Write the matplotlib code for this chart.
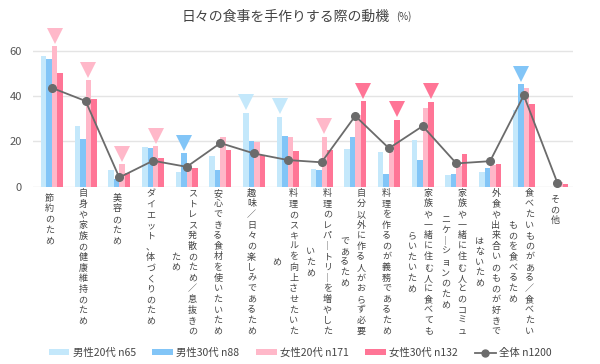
import numpy as np
import matplotlib.pyplot as plt
from matplotlib.patches import Patch
from matplotlib.lines import Line2D

plt.rcParams['font.family'] = ['Noto Sans CJK JP', 'DejaVu Sans']

# ── data (%) ────────────────────────────────────────────────────────────
labels = [
    "節約のため",
    "自身や家族の健康維持のため",
    "美容のため",
    "ダイエット、体づくりのため",
    "ストレス発散のため／息抜きのため",
    "安心できる食材を使いたいため",
    "趣味／日々の楽しみであるため",
    "料理のスキルを向上させたいため",
    "料理のレパートリーを増やしたいため",
    "自分以外に作る人がおらず必要であるため",
    "料理を作るのが義務であるため",
    "家族や一緒に住む人に食べてもらいたいため",
    "家族や一緒に住む人とのコミュニケーションのため",
    "外食や出来合いのものが好きではないため",
    "食べたいものがある／食べたいものを食べるため",
    "その他",
]
male20 = [57.6, 26.8, 7.2, 17.4, 6.6, 13.4, 32.8, 31.0, 7.8, 16.8, 15.3, 20.6, 5.4, 6.5, 34.1, 0.0]
male30 = [56.6, 21.3, 3.2, 17.1, 14.7, 7.5, 20.3, 22.6, 7.2, 21.8, 5.6, 11.8, 5.7, 8.2, 45.3, 0.0]
female20 = [62.2, 47.0, 9.9, 17.9, 9.6, 22.2, 19.7, 21.8, 22.0, 31.6, 15.9, 34.6, 9.3, 9.6, 43.5, 2.2]
female30 = [50.4, 38.7, 5.9, 12.9, 8.4, 16.2, 14.1, 15.9, 16.4, 37.9, 29.7, 37.5, 14.4, 10.0, 36.6, 1.2]
total = [43.7, 37.9, 4.1, 11.5, 8.8, 19.3, 14.7, 11.8, 10.8, 31.3, 17.0, 26.8, 10.3, 11.3, 40.4, 1.6]
# which series gets the ▼ marker in each category (None = no marker)
highlight = [2, 2, 2, 2, 1, None, 0, 0, 2, 3, 3, 3, None, None, 1, None]

series_names = ["男性20代 n65", "男性30代 n88", "女性20代 n171", "女性30代 n132"]
total_name = "全体 n1200"

colors = ["#c4e8fb", "#82c5f7", "#ffb8c9", "#ff7596"]
line_color = "#6b6b6b"
text_color = "#555555"

series = [male20, male30, female20, female30]
x = np.arange(len(labels))
w = 0.163

fig = plt.figure(figsize=(6, 3.64), dpi=100)
ax = fig.add_axes([0.055, 0.487, 0.90, 0.435])

for k, vals in enumerate(series):
    ax.bar(x + (k - 1.5) * w, vals, width=w, color=colors[k], zorder=2)

ax.plot(x, total, color=line_color, lw=1.3, marker="o", ms=5.5, zorder=4)

# ▼ markers above highlighted bars
px_per_unit = 0.435 * 364 / 70
for i, k in enumerate(highlight):
    if k is None:
        continue
    ax.plot(x[i] + (k - 1.5) * w, series[k][i] + 10.5 / px_per_unit, marker="v",
            ms=11, color=colors[k], mew=0, clip_on=False, zorder=3)

ax.set_xlim(-0.56, 15.46)
ax.set_ylim(0, 70)
ax.set_yticks([0, 20, 40, 60])
ax.yaxis.grid(True, color="#e4e4e4", lw=1)
ax.set_axisbelow(True)
for s in ax.spines.values():
    s.set_visible(False)
ax.tick_params(axis="y", length=0, pad=8, labelsize=8, labelcolor=text_color)
ax.tick_params(axis="x", length=0)
ax.set_xticks([])

# vertical (tategaki) category labels, 14 chars per column
for i, lab in enumerate(labels):
    lab = lab.replace("ー", "｜")
    cols = [lab[j:j + 14] for j in range(0, len(lab), 14)]
    n1 = len(cols[0])
    dy = -(9 + n1 * 9.5 / 2) * 72 / 100
    for j, col in enumerate(cols):
        dx = (-2.5 + ((len(cols) - 1) / 2 - j) * 16.5) * 72 / 100
        ax.annotate("\n".join(col), xy=(x[i], 0), xytext=(dx, dy),
                    textcoords="offset points", ha="center", va="center",
                    fontsize=6.5, linespacing=1.23, color="#444444",
                    annotation_clip=False)

fig.text(0.476, 1 - 17 / 364, "日々の食事を手作りする際の動機", ha="center", va="center",
         fontsize=10, color="#444444")
fig.text(0.66, 1 - 17 / 364, "(%)", ha="left", va="center", fontsize=7, color="#444444")

handles = [Patch(facecolor=c, edgecolor="none") for c in colors]
handles.append(Line2D([], [], color=line_color, lw=1.3, marker="o", ms=5))
fig.legend(handles, series_names + [total_name], loc="center",
           bbox_to_anchor=(0.5, 1 - 353 / 364), ncol=5, frameon=False,
           fontsize=7.5, labelcolor="#444444", handlelength=2.0, handleheight=0.5,
           handletextpad=0.3, columnspacing=1.6)

fig.savefig("out.png", dpi=100)
